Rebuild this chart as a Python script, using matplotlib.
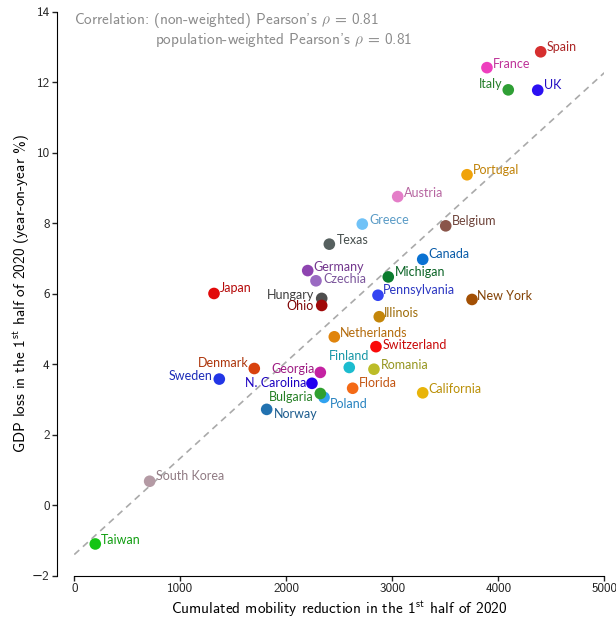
import numpy as np
import matplotlib
matplotlib.use("Agg")
import matplotlib.pyplot as plt
import matplotlib.colors as mcolors

# cumulated mobility reduction vs. GDP loss, 1st half of 2020
regions = ["Spain", "France", "Italy", "UK", "Portugal", "Austria", "Greece",
           "Belgium", "Texas", "Canada", "Germany", "Czechia", "Michigan",
           "Japan", "Hungary", "Ohio", "Pennsylvania", "Illinois", "New York",
           "Netherlands", "Switzerland", "Finland", "Romania", "Denmark",
           "Georgia", "Sweden", "N. Carolina", "Florida", "California",
           "Poland", "Bulgaria", "Norway", "South Korea", "Taiwan"]
mobility = [4400, 3893, 4094, 4372, 3705, 3051, 2717,
            3504, 2406, 3287, 2202, 2280, 2962,
            1318, 2334, 2334, 2865, 2877, 3752,
            2453, 2846, 2594, 2827, 1698,
            2321, 1368, 2242, 2626, 3287,
            2356, 2321, 1815, 711, 198]
gdp_loss = [12.87, 12.42, 11.79, 11.78, 9.38, 8.76, 7.98,
            7.93, 7.41, 6.98, 6.66, 6.37, 6.48,
            6.01, 5.87, 5.67, 5.96, 5.35, 5.84,
            4.78, 4.50, 3.91, 3.86, 3.88,
            3.77, 3.58, 3.46, 3.32, 3.19,
            3.06, 3.17, 2.72, 0.68, -1.10]
colors = ["#d62f2f", "#ee3fbe", "#2f9f35", "#2b10f2", "#f0a30a", "#e47ec8", "#70c2f7",
          "#8a554a", "#56605f", "#0a72d2", "#8e44b0", "#9a6ac2", "#0b7c2e",
          "#e20a0a", "#4e4e4e", "#a00808", "#3444f2", "#c4860a", "#a35004",
          "#e0840c", "#fa0a0a", "#1cbccf", "#bcbc28", "#d8420e",
          "#c422a2", "#2236e6", "#2200f0", "#f46a16", "#e8b40a",
          "#30a2f0", "#2fa02f", "#2272b0", "#b49aa4", "#14c414"]

fit_intercept = -1.40
fit_slope = 0.002735

# label placement: offset in pixels from the marker, horizontal alignment
label_pos = {
    "Spain": (6, 5, "left"), "France": (6, 4, "left"), "Italy": (-6, 6, "right"),
    "UK": (6, 5, "left"), "Portugal": (6, 5, "left"), "Austria": (6, 4, "left"),
    "Greece": (7, 4, "left"), "Belgium": (6, 5, "left"), "Texas": (8, 4, "left"),
    "Canada": (6, 5, "left"), "Germany": (6, 4, "left"), "Czechia": (7, 2, "left"),
    "Michigan": (7, 5, "left"), "Japan": (6, 5, "left"), "Hungary": (-7, 3, "right"),
    "Ohio": (-8, -1, "right"), "Pennsylvania": (5, 5, "left"), "Illinois": (5, 4, "left"),
    "New York": (5, 3, "left"), "Netherlands": (6, 4, "left"), "Switzerland": (7, 2, "left"),
    "Finland": (0, 11, "center"), "Romania": (7, 4, "left"), "Denmark": (-6, 6, "right"),
    "Georgia": (-6, 3, "right"), "Sweden": (-7, 3, "right"), "N. Carolina": (-6, 0, "right"),
    "Florida": (6, 5, "left"), "California": (6, 4, "left"), "Poland": (6, -7, "left"),
    "Bulgaria": (-7, -3, "right"), "Norway": (7, -5, "left"), "South Korea": (6, 5, "left"),
    "Taiwan": (6, 4, "left"),
}

plt.rcParams['font.family'] = ['cmss10', 'DejaVu Sans']
plt.rcParams['mathtext.fontset'] = 'custom'
plt.rcParams['mathtext.rm'] = 'cmss10'
plt.rcParams['mathtext.sf'] = 'cmss10'
plt.rcParams['mathtext.it'] = 'cmmi10'
plt.rcParams['axes.unicode_minus'] = True

fig = plt.figure(figsize=(6.16, 6.18), dpi=100)
ax = fig.add_axes([0.1206, 0.0685, 0.8604, 0.9121])

xs = np.array([0, 5000])
ax.plot(xs, fit_intercept + fit_slope * xs, ls=(0, (4, 3)), color="#aaaaaa",
        lw=1.2, zorder=1)

for name, x, y, c in zip(regions, mobility, gdp_loss, colors):
    ax.scatter(x, y, s=70, color=c, edgecolors="none", zorder=3)
    dx, dy, ha = label_pos[name]
    tc = np.array(mcolors.to_rgb(c)) * 0.8
    ax.annotate(name, (x, y), xytext=(dx, dy), textcoords="offset pixels",
                ha=ha, va="center", fontsize=9, color=tc, family="Lato",
                zorder=4)

ax.set_xlim(0, 5000)
ax.set_ylim(-2, 14)
ax.set_xticks(np.arange(0, 5001, 1000))
ax.set_yticks(np.arange(-2, 15, 2))

# detached, trimmed axes
for side in ["top", "right"]:
    ax.spines[side].set_visible(False)
ax.spines["left"].set_position(("outward", 12.2))
ax.spines["left"].set_bounds(-2, 14)
ax.spines["bottom"].set_bounds(0, 5000)
ax.tick_params(labelsize=9.5, length=3.5, width=1, pad=2, colors="#222222")

ax.set_xlabel(r"Cumulated mobility reduction in the 1$^{\rm st}$ half of 2020",
              fontsize=11, labelpad=3)
ax.set_ylabel(r"GDP loss in the 1$^{\rm st}$ half of 2020 (year-on-year %)",
              fontsize=11, labelpad=0)

ax.text(0.0, 0.985, "Correlation: (non-weighted) Pearson's $\\rho$ = 0.81",
        transform=ax.transAxes, fontsize=11, color="#8a8a8a", va="center")
ax.text(0.152, 0.951, "population-weighted Pearson's $\\rho$ = 0.81",
        transform=ax.transAxes, fontsize=11, color="#8a8a8a", va="center")

fig.savefig("out.png", dpi=100)
